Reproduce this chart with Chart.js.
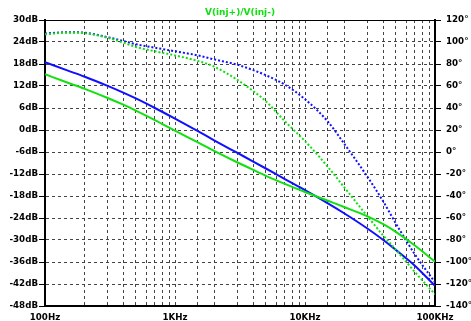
<!DOCTYPE html>
<html><head><meta charset="utf-8">
<script src="https://cdn.jsdelivr.net/npm/chart.js@4"></script>
<style>html,body{margin:0;padding:0;background:#fff}#wrap{width:471px;height:321px}</style>
</head><body><div id="wrap"><canvas id="c" width="471" height="321"></canvas></div>
<script>
const title = "V(inj+)/V(inj-)";
const freqs = [100,150,200,300,400,500,700,1000,1500,2000,3000,4000,5000,7000,10000,15000,20000,30000,40000,50000,70000,100000];
const blueMag = [18.5,16.2,14.6,12.1,10.2,8.6,6.0,3.1,-0.3,-2.8,-6.2,-8.6,-10.5,-13.4,-16.4,-20.0,-22.7,-26.8,-30.0,-32.7,-37.0,-42.5];
const greenMag = [15.2,12.9,11.3,8.8,6.9,5.3,2.7,-0.2,-3.4,-5.7,-8.8,-10.9,-12.5,-14.7,-16.9,-19.3,-21.0,-23.5,-25.7,-27.8,-31.5,-35.9];
const bluePhase = [107.7,108.9,108.5,104.5,101.0,98.0,94.8,91.6,87.8,84.2,79.4,74.4,69.8,61.2,48.0,27.6,7.6,-22.0,-45.0,-65.0,-93.0,-118.5];
const greenPhase = [107.0,108.5,108.0,104.0,99.5,95.5,91.6,87.8,82.8,77.6,65.8,55.3,46.2,27.9,9.9,-13.6,-32.0,-58.0,-76.0,-88.8,-109.0,-129.4];
const freqLabels = {100:"100Hz",1000:"1KHz",10000:"10KHz",100000:"100KHz"};

const BLUE = "#1010ff", GREEN = "#10e010";
const pts = arr => freqs.map((f,i)=>({x:f,y:arr[i]}));
const tickFont = {family:"DejaVu Sans", size:8.7, weight:"bold"};

const framePlugin = {
  id:"frame",
  afterDraw(chart){
    const {ctx, chartArea:a} = chart;
    ctx.save();
    ctx.strokeStyle="#000"; ctx.lineWidth=1;
    ctx.beginPath(); ctx.moveTo(a.left, a.top+0.5); ctx.lineTo(a.right, a.top+0.5); ctx.stroke();
    ctx.fillStyle=GREEN; ctx.font="bold 9px 'DejaVu Sans'"; ctx.textAlign="center"; ctx.textBaseline="middle";
    ctx.fillText(title, (a.left+a.right)/2, 13);
    ctx.restore();
  }
};

const line = (arr, axis, color, dotted) => ({
  data:pts(arr), yAxisID:axis, borderColor:color, borderWidth:2,
  borderDash: dotted ? [2,2] : [], pointRadius:0, cubicInterpolationMode:"monotone"
});

new Chart(document.getElementById("c"), {
  type:"line",
  data:{datasets:[
    line(greenMag,"yL",GREEN,false),
    line(greenPhase,"yR",GREEN,true),
    line(blueMag,"yL",BLUE,false),
    line(bluePhase,"yR",BLUE,true)
  ]},
  options:{
    responsive:false, animation:false, events:[],
    layout:{padding:{top:20,left:0,right:0,bottom:0}},
    plugins:{legend:{display:false}, tooltip:{enabled:false}},
    scales:{
      x:{type:"logarithmic", min:100, max:100000, position:"bottom",
        afterFit(s){s.height=15;},
        border:{color:"#000", width:2, dash:[3,3]},
        grid:{color:"#444", lineWidth:1, drawTicks:true, tickLength:0},
        ticks:{autoSkip:false, maxRotation:0, padding:7, color:"#000", font:tickFont,
          callback:(v)=> freqLabels[v] || ""}
      },
      yL:{type:"linear", position:"left", min:-48, max:30,
        afterFit(s){s.width=45;},
        border:{color:"#000", width:2, dash:[3,3]},
        grid:{color:"#444", lineWidth:1, tickLength:6, tickColor:"#000", tickBorderDash:[]},
        ticks:{stepSize:6, padding:1, color:"#000", font:tickFont, callback:v=>v+"dB"}
      },
      yR:{type:"linear", position:"right", min:-140, max:120,
        afterFit(s){s.width=36;},
        border:{color:"#000", width:2},
        grid:{drawOnChartArea:false, tickLength:6, tickColor:"#000"},
        ticks:{stepSize:20, padding:5, color:"#000", font:tickFont, callback:v=>v+"°"}
      }
    }
  },
  plugins:[framePlugin]
});
</script></body></html>
